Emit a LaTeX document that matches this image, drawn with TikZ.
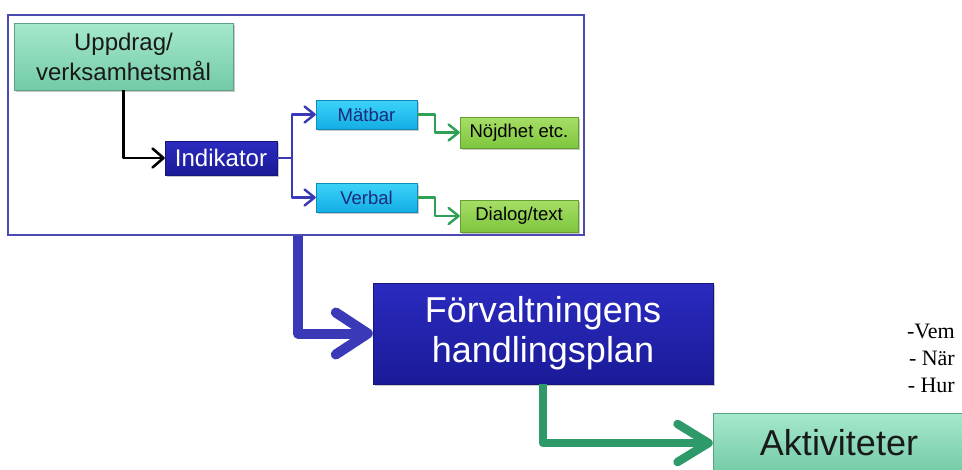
\documentclass[tikz,border=0pt]{standalone}
\usepackage{fontspec}
\setmainfont{Liberation Sans}
\newfontfamily\tnr{Liberation Serif}
\usetikzlibrary{arrows.meta,shadows}
\definecolor{framec}{HTML}{4A4AB2}
\definecolor{mintT}{HTML}{A6E8CD}
\definecolor{mintB}{HTML}{72CBA6}
\definecolor{indT}{HTML}{2B2BC0}
\definecolor{indB}{HTML}{1A1A98}
\definecolor{cyanT}{HTML}{3CD2F8}
\definecolor{cyanB}{HTML}{14AEE6}
\definecolor{cyantext}{HTML}{1A2A7A}
\definecolor{limeT}{HTML}{A6DE66}
\definecolor{limeB}{HTML}{7EC63E}
\definecolor{blueArr}{HTML}{3A3AB8}
\definecolor{greenArr}{HTML}{2FA055}
\definecolor{greenBig}{HTML}{2E9A6A}
\tikzset{
  boxshadow/.style={drop shadow={shadow xshift=2pt,shadow yshift=-2pt,opacity=0.35,fill=black!60}},
  mintbox/.style={rectangle,inner sep=0pt,top color=mintT,bottom color=mintB,draw=mintB!80!black,line width=0.4pt,boxshadow,align=center,text=black!90},
  indbox/.style={rectangle,inner sep=0pt,top color=indT,bottom color=indB,draw=indB!80!black,line width=0.4pt,boxshadow,align=center,text=white},
  cyanbox/.style={rectangle,inner sep=0pt,top color=cyanT,bottom color=cyanB,draw=cyanB!80!black,line width=0.4pt,boxshadow,text=cyantext},
  limebox/.style={rectangle,inner sep=0pt,top color=limeT,bottom color=limeB,draw=limeB!80!black,line width=0.4pt,boxshadow,text=black},
  framebox/.style={rectangle,draw=framec,line width=1.2pt,fill=white,inner sep=0pt},
  smallblue/.style={draw=blueArr,line width=2.4pt,line join=round,-{Straight Barb[length=10pt,width=16pt,round]}},
  smallgreen/.style={draw=greenArr,line width=2.4pt,line join=round,-{Straight Barb[length=10pt,width=16pt,round]}},
  blackarr/.style={draw=black,line width=2.6pt,line join=round,-{Straight Barb[length=11pt,width=19pt,round]}},
  bigblue/.style={draw=blueArr,line width=10pt,line join=round,-{Straight Barb[length=32pt,width=42pt,round]}},
  biggreen/.style={draw=greenBig,line width=8.5pt,line join=round,-{Straight Barb[length=31pt,width=38pt,round]}},
}
\begin{document}
\begin{tikzpicture}[x=1pt,y=-1pt]
\useasboundingbox (0,0) rectangle (962,469);
\clip (0,0) rectangle (962,469);
\fill[white] (0,0) rectangle (962,469);

\node[framebox,minimum width=576pt,minimum height=220pt] (frame) at (296,125) {};

\node[mintbox,minimum width=219pt,minimum height=67pt,font=\fontsize{24}{30}\selectfont] (upp) at (123.5,56.5) {Uppdrag/\\verksamhetsmål};
\node[indbox,minimum width=112pt,minimum height=34pt,font=\fontsize{24}{28}\selectfont] (ind) at (221,158) {Indikator};
\node[cyanbox,minimum width=101pt,minimum height=29pt,font=\fontsize{18.5}{20}\selectfont] (mat) at (366.5,114.5) {Mätbar};
\node[cyanbox,minimum width=101pt,minimum height=29pt,font=\fontsize{18.5}{20}\selectfont] (ver) at (366.5,197.5) {Verbal};
\node[limebox,minimum width=118pt,minimum height=31pt,font=\fontsize{18.5}{22}\selectfont] (noj) at (519,132.5) {Nöjdhet etc.};
\node[limebox,minimum width=118pt,minimum height=32pt,font=\fontsize{18.5}{22}\selectfont] (dia) at (519,216) {Dialog/text};

\draw[blackarr] (upp.south) |- (ind.west);
\draw[smallblue] (ind.east) -- ++(15,0) |- (mat.west);
\draw[smallblue] (ind.east) -- ++(15,0) |- (ver.west);
\draw[smallgreen] (mat.east) -- ++(18,0) |- (noj.west);
\draw[smallgreen] (ver.east) -- ++(18,0) |- (dia.west);

\node[indbox,minimum width=340pt,minimum height=101pt,font=\fontsize{36}{40}\selectfont] (plan) at (543,333.5) {Förvaltningens\\handlingsplan};
\node[mintbox,minimum width=252pt,minimum height=60pt,font=\fontsize{36}{40}\selectfont] (akt) at (839,443) {Aktiviteter};

\draw[bigblue] ([xshift=2pt]frame.south) |- (plan.west);
\draw[biggreen] (plan.south) |- (akt.west);

\node[anchor=north east,align=right,inner sep=0pt,font=\tnr\fontsize{22}{27}\selectfont] (list) at (955,324) {-Vem\\- När\\- Hur};
\end{tikzpicture}
\end{document}
